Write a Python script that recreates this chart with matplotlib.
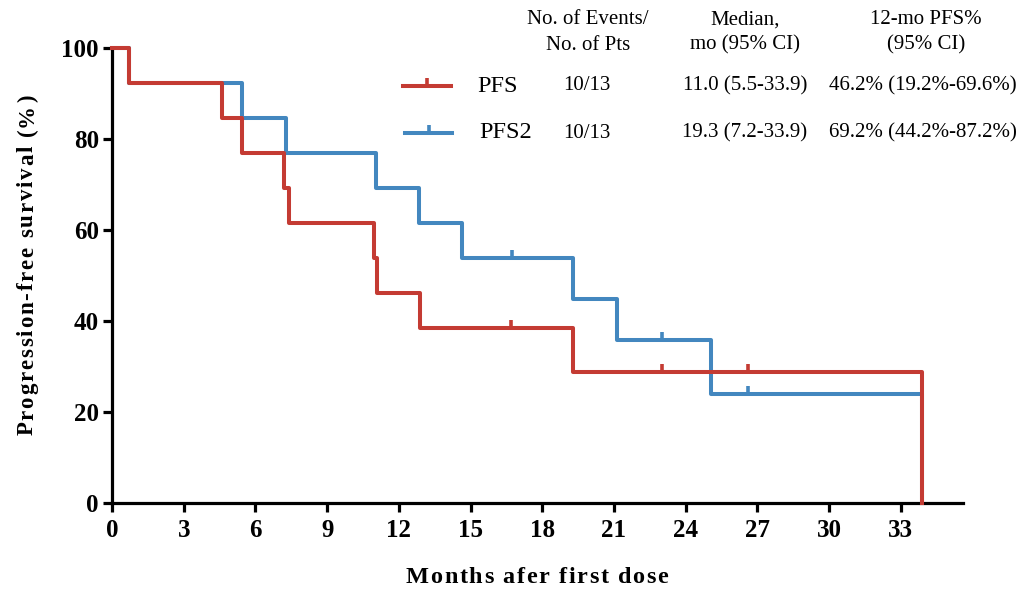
import matplotlib
matplotlib.use("Agg")
import matplotlib.pyplot as plt
from matplotlib.path import Path
from matplotlib.lines import Line2D
from matplotlib.transforms import ScaledTranslation
from matplotlib.textpath import TextToPath
from matplotlib.font_manager import FontProperties

# ---------------- data ----------------
pfs_time = [0, 0.7, 4.6, 5.45, 7.2, 7.42, 10.96, 11.07, 12.9, 19.3, 33.9]
pfs_surv = [100, 92.3, 84.6, 76.9, 69.2, 61.5, 53.8, 46.2, 38.5, 28.8, 0]
pfs_cens_time = [16.7, 23.0, 26.6]
pfs_cens_surv = [38.5, 28.8, 28.8]

pfs2_time = [0, 0.7, 5.45, 7.27, 11.05, 12.85, 14.66, 19.3, 21.12, 25.05, 33.9]
pfs2_surv = [100, 92.3, 84.6, 76.9, 69.2, 61.5, 53.8, 44.9, 35.9, 23.9, 0]
pfs2_cens_time = [16.74, 23.0, 26.6]
pfs2_cens_surv = [53.8, 35.9, 23.9]

x_ticks = [0, 3, 6, 9, 12, 15, 18, 21, 24, 27, 30, 33]
y_ticks = [0, 20, 40, 60, 80, 100]

series_names = ["PFS", "PFS2"]
events_pts = ["10/13", "10/13"]
medians = ["11.0 (5.5-33.9)", "19.3 (7.2-33.9)"]
pfs12 = ["46.2% (19.2%-69.6%)", "69.2% (44.2%-87.2%)"]
header_events = ["No. of Events/", "No. of Pts"]
header_median = ["Median,", "mo (95% CI)"]
header_pfs12 = ["12-mo PFS%", "(95% CI)"]

RED = "#C43B33"
BLUE = "#4387BF"

plt.rcParams["font.family"] = ["Liberation Serif", "DejaVu Serif"]

W, H = 1029, 590
fig = plt.figure(figsize=(W / 100, H / 100), dpi=100)
ax = fig.add_axes([112 / W, 1 - 503 / H, (963 - 112) / W, (503 - 48) / H])

censor_marker = Path([[0, 0], [0, 1]])

LW = 2.9
MS = 11.5
MEW = 2.6
ax.step(pfs2_time, pfs2_surv, where="post", color=BLUE, lw=LW, clip_on=False, zorder=3)
ax.plot(pfs2_cens_time, pfs2_cens_surv, ls="none", marker=censor_marker, ms=MS,
        mew=MEW, color=BLUE, clip_on=False, zorder=3)
ax.step(pfs_time, pfs_surv, where="post", color=RED, lw=LW, clip_on=False, zorder=4)
ax.plot(pfs_cens_time, pfs_cens_surv, ls="none", marker=censor_marker, ms=MS,
        mew=MEW, color=RED, clip_on=False, zorder=4)

ax.set_xlim(0, 35.6)
ax.set_ylim(0, 100)
for s in ["top", "right"]:
    ax.spines[s].set_visible(False)
for s in ["left", "bottom"]:
    ax.spines[s].set_linewidth(2.3)
ax.set_xticks(x_ticks)
ax.set_yticks(y_ticks)
ax.tick_params(axis="both", direction="out", length=6.5, width=2.3, labelsize=18)
ax.tick_params(axis="x", pad=5)
ax.tick_params(axis="y", pad=3)
for lab in ax.get_xticklabels() + ax.get_yticklabels():
    lab.set_fontweight("bold")

# ---------- letter-spaced axis labels ----------
t2p = TextToPath()


def spaced_text(text, cx_px, base_px, size, spacing_px, vertical=False):
    prop = FontProperties(family="Liberation Serif", weight="bold", size=size)
    widths = []
    for ch in text:
        if ch == " ":
            w, _, _ = t2p.get_text_width_height_descent("a a", prop, ismath=False)
            w2, _, _ = t2p.get_text_width_height_descent("aa", prop, ismath=False)
            widths.append((w - w2) * 100 / 72)
        else:
            w, _, _ = t2p.get_text_width_height_descent(ch, prop, ismath=False)
            widths.append(w * 100 / 72)
    total = sum(widths) + spacing_px * (len(text) - 1)
    pos = -total / 2
    for ch, w in zip(text, widths):
        if vertical:
            off = ScaledTranslation(0, pos / 100, fig.dpi_scale_trans)
            fig.text(base_px / W, 1 - cx_px / H, ch, fontproperties=prop,
                     rotation=90, rotation_mode="anchor", ha="left", va="baseline",
                     transform=fig.transFigure + off)
        else:
            off = ScaledTranslation(pos / 100, 0, fig.dpi_scale_trans)
            fig.text(cx_px / W, 1 - base_px / H, ch, fontproperties=prop,
                     ha="left", va="baseline", transform=fig.transFigure + off)
        pos += w + spacing_px


spaced_text("Months afer first dose", 537, 583, 17.5, 1.6)
spaced_text("Progression-free survival (%)", 265, 33, 16.5, 1.8, vertical=True)

# ---------- legend / table ----------
TFS = 15
for i, txt in enumerate(header_events):
    fig.text(588 / W, 1 - (20 + 25 * i) / H, txt, fontsize=TFS, ha="center", va="center")
for i, txt in enumerate(header_median):
    fig.text(745 / W, 1 - (20 + 25 * i) / H, txt, fontsize=TFS, ha="center", va="center")
for i, txt in enumerate(header_pfs12):
    fig.text(926 / W, 1 - (20 + 25 * i) / H, txt, fontsize=TFS, ha="center", va="center")

row_y = [86, 133]
colors = [RED, BLUE]
line_x = [(403, 451), (405, 452)]
for i in range(2):
    y = 1 - row_y[i] / H
    x0, x1 = line_x[i]
    fig.add_artist(Line2D([x0 / W, x1 / W], [y, y], color=colors[i], lw=LW,
                          transform=fig.transFigure))
    fig.add_artist(Line2D([(x0 + x1) / 2 / W], [y], color=colors[i], ls="none",
                          marker=censor_marker, ms=MS, mew=MEW,
                          transform=fig.transFigure))
    fig.text((477 + 2 * i) / W, y, series_names[i], fontsize=17.5, ha="left", va="center")
    fig.text(587 / W, y, events_pts[i], fontsize=TFS, ha="center", va="center")
    fig.text(745 / W, y, medians[i], fontsize=TFS, ha="center", va="center")
    fig.text(923 / W, y, pfs12[i], fontsize=TFS, ha="center", va="center")

fig.savefig("out.png", dpi=100)
